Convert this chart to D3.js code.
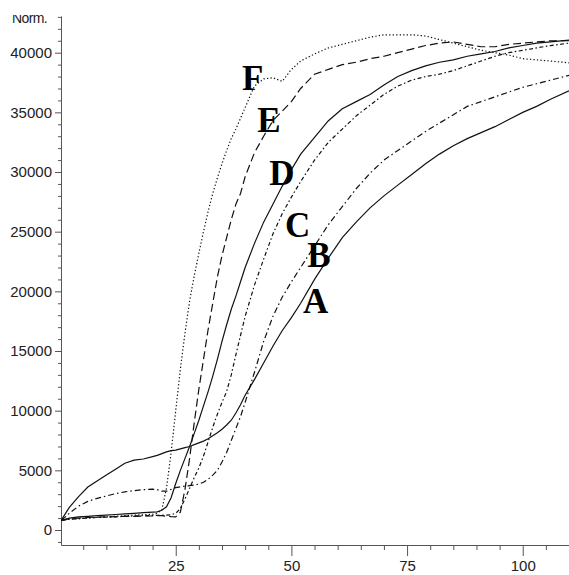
<!DOCTYPE html>
<html><head><meta charset="utf-8">
<script src="https://cdn.jsdelivr.net/npm/d3@7"></script>
<style>body{margin:0;background:#fff}svg{display:block}</style>
</head><body><svg id="c" width="569" height="575"></svg>
<script>
// ---- data ----
const time = [0.3,2,4,6,8,10,12,14,16,18,20,21,22,23,24,25,26,27,28,29,30,31,32,33,34,35,36,37,38,39,40,42,44,46,48,50,52,55,58,61,64,67,70,73,76,79,82,85,88,91,94,97,100,103,106,110];
const seriesA = [850,1900,2800,3600,4100,4600,5100,5600,5850,5950,6150,6250,6400,6550,6650,6700,6800,6900,7000,7150,7300,7450,7650,7900,8150,8450,8800,9200,9800,10500,11300,12600,14000,15400,16700,17800,19000,21000,22800,24500,25800,27000,28000,28900,29800,30700,31500,32200,32800,33300,33800,34400,35000,35500,36100,36800];
const seriesB = [800,1400,2000,2400,2650,2850,3050,3200,3300,3380,3420,3380,3250,3250,3400,3550,3620,3680,3720,3760,3850,4000,4250,4600,5000,5700,6500,7500,8500,9500,10700,13200,15800,17900,19500,20800,22000,23800,25600,27100,28600,29900,31000,31800,32600,33400,34100,34800,35500,35900,36300,36700,37100,37400,37700,38100];
const seriesC = [800,900,950,1000,1050,1080,1100,1150,1180,1200,1220,1230,1240,1250,1280,1400,1800,2600,3500,4400,5200,6200,7400,8600,9700,10700,11600,13000,14700,16300,17900,20500,22700,24800,26500,27900,29200,31000,32500,33600,34700,35600,36500,37200,37700,38000,38200,38500,38900,39300,39700,40000,40200,40400,40600,40800];
const seriesD = [800,1000,1100,1150,1200,1250,1300,1350,1400,1450,1500,1520,1650,1950,2700,3900,5000,6000,7000,8100,9200,10400,11600,12900,14300,15800,17200,18500,19600,20800,22000,24000,25800,27300,28800,30200,31500,32900,34300,35300,35900,36500,37300,38000,38500,38900,39200,39400,39700,39900,40100,40400,40600,40800,40900,41050];
const seriesE = [800,950,1000,1050,1080,1100,1120,1150,1150,1170,1180,1200,1200,1150,1120,1100,1500,3400,6000,9000,11800,14300,16800,19000,21200,23000,24500,26000,27300,28200,29600,31600,33000,34300,35100,35900,37000,38200,38600,39000,39200,39500,39700,40000,40300,40600,40800,40900,40700,40500,40500,40700,40800,40900,41000,41000];
const seriesF = [800,900,950,1000,1050,1100,1150,1200,1250,1280,1320,1400,1700,3500,6500,10000,13500,16500,19200,21300,23200,25000,26700,28200,29500,30700,31800,32800,33600,34500,35400,37200,37800,37900,37600,38600,39300,39900,40400,40700,41000,41300,41500,41500,41500,41400,41100,40800,40500,40200,40000,39800,39500,39400,39300,39150];
const seriesNames = ["A","B","C","D","E","F"];
const xTickValues = [25,50,75,100];
const yTickValues = [0,5000,10000,15000,20000,25000,30000,35000,40000];
const yAxisTitle = "Norm.";
// curve-label anchors in data units [time, value]
const labelTime  = [52.5,53.4,48.6,45.2,42.6,39.3];
const labelValue = [18180,22040,24550,28910,33350,36870];

// ---- drawing ----
const svg = d3.select("#c");
svg.append("rect").attr("width",569).attr("height",575).attr("fill","#fff");
const x = d3.scaleLinear().domain([0.2,110]).range([61,569]);
const y = d3.scaleLinear().domain([-1257,43075]).range([545,16]);

const axisColor = "#555", textColor = "#222";
const font = "'Liberation Sans', Arial, sans-serif";

// minor ticks
const yMinor = d3.range(-1000, 43001, 1000).filter(v => v % 5000 !== 0);
const xMinor = d3.range(5, 110, 5).filter(v => v % 25 !== 0);
const yMinorAxis = svg.append("g").attr("transform","translate(61,0)")
  .call(d3.axisLeft(y).tickValues(yMinor).tickSize(3).tickFormat(""));
const xMinorAxis = svg.append("g").attr("transform","translate(0,545)")
  .call(d3.axisBottom(x).tickValues(xMinor).tickSize(5).tickFormat(""));
[yMinorAxis,xMinorAxis].forEach(g=>{g.select(".domain").remove(); g.selectAll("line").attr("stroke",axisColor);});

const yAxis = svg.append("g").attr("transform","translate(61,0)")
  .call(d3.axisLeft(y).tickValues(yTickValues).tickSize(6).tickSizeOuter(0).tickPadding(3).tickFormat(d3.format("d")));
const xAxis = svg.append("g").attr("transform","translate(0,545)")
  .call(d3.axisBottom(x).tickValues(xTickValues).tickSize(11).tickSizeOuter(0).tickPadding(4).tickFormat(d3.format("d")));
[yAxis,xAxis].forEach(g=>{
  g.select(".domain").attr("stroke",axisColor);
  g.selectAll("line").attr("stroke",axisColor);
  g.selectAll("text").attr("fill",textColor).style("font-family",font).style("font-size","15px");
});

// axis title, top slightly cut as in the source figure
svg.append("clipPath").attr("id","titleClip").append("rect")
  .attr("x",0).attr("y",15).attr("width",60).attr("height",20);
svg.append("text").attr("x",12).attr("y",23).text(yAxisTitle)
  .attr("clip-path","url(#titleClip)")
  .attr("fill",textColor).style("font-family",font).style("font-size","14px").style("letter-spacing","-0.6px");

const allSeries = [seriesA,seriesB,seriesC,seriesD,seriesE,seriesF];
const dashes = [null,"6,3,1.5,3","4,2.5,1.5,2.5",null,"8,4","1.3,2.2"];
const line = d3.line().x((d,i)=>x(time[i])).y(d=>y(d));
allSeries.forEach((s,k)=>{
  svg.append("path").datum(s).attr("d",line)
    .attr("fill","none").attr("stroke","#111").attr("stroke-width",1.2)
    .attr("stroke-dasharray",dashes[k]);
});

seriesNames.forEach((n,k)=>{
  svg.append("text").attr("x",x(labelTime[k])).attr("y",y(labelValue[k])).text(n)
    .attr("fill","#000").style("font-family","'Liberation Serif','Times New Roman',serif")
    .style("font-weight","bold").style("font-size","35px");
});
</script></body></html>
